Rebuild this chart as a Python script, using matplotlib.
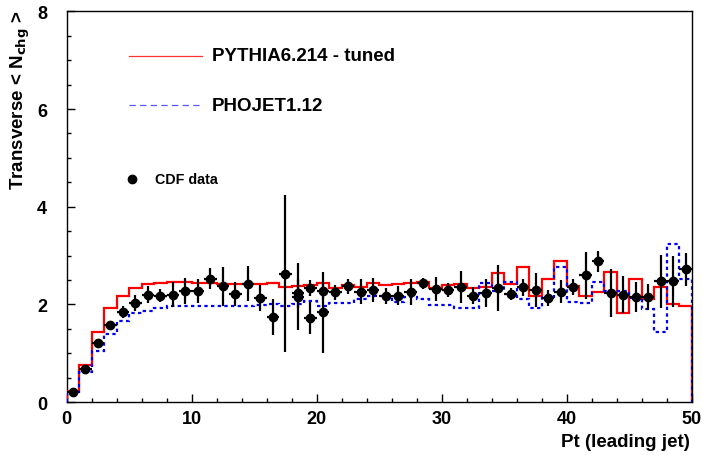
import numpy as np
import matplotlib
matplotlib.use("Agg")
import matplotlib.pyplot as plt

# bin edges 0..50, 1 GeV bins
edges = np.arange(0, 51, 1)

pythia = [0.23, 0.76, 1.44, 1.92, 2.18, 2.34, 2.41, 2.44, 2.46, 2.46,
          2.44, 2.43, 2.42, 2.41, 2.41, 2.41, 2.44, 2.35, 2.38, 2.40,
          2.43, 2.34, 2.40, 2.35, 2.43, 2.40, 2.42, 2.43, 2.46, 2.33,
          2.40, 2.42, 2.33, 2.36, 2.64, 2.41, 2.76, 2.18, 2.53, 2.88,
          2.37, 2.17, 2.25, 2.67, 1.82, 2.52, 2.11, 2.35, 2.01, 1.96]

phojet = [0.21, 0.62, 1.05, 1.40, 1.67, 1.82, 1.87, 1.93, 1.97, 1.97,
          1.97, 1.97, 1.97, 1.97, 1.97, 1.99, 2.01, 1.97, 2.01, 2.06,
          1.96, 2.02, 2.02, 2.12, 2.18, 2.18, 2.04, 2.15, 2.12, 1.99,
          1.99, 1.92, 1.92, 2.43, 2.28, 2.46, 2.12, 1.93, 2.15, 2.76,
          2.04, 2.03, 2.45, 2.28, 2.28, 2.13, 1.91, 1.43, 3.24, 2.52]

cdf_x = np.arange(0.5, 50, 1.0)
cdf_y = [0.21, 0.68, 1.22, 1.58, 1.84, 2.03, 2.20, 2.18, 2.20, 2.27,
         2.27, 2.53, 2.37, 2.21, 2.42, 2.13, 1.74, 2.63, 2.23, 2.33,
         2.27, 2.25, 2.37, 2.26, 2.30, 2.17, 2.18, 2.25, 2.43, 2.32,
         2.29, 2.36, 2.18, 2.23, 2.33, 2.21, 2.35, 2.29, 2.13, 2.26,
         2.36, 2.60, 2.88, 2.24, 2.20, 2.15, 2.15, 2.47, 2.47, 2.72]
cdf_err = [0.03, 0.04, 0.05, 0.06, 0.12, 0.17, 0.18, 0.14, 0.25, 0.27,
           0.25, 0.21, 0.40, 0.24, 0.36, 0.26, 0.37, 1.61, 0.30, 0.16,
           0.15, 0.15, 0.16, 0.26, 0.25, 0.17, 0.19, 0.26, 0.12, 0.25,
           0.14, 0.33, 0.17, 0.29, 0.47, 0.12, 0.17, 0.35, 0.17, 0.23,
           0.17, 0.48, 0.22, 0.49, 0.38, 0.31, 0.27, 0.54, 0.53, 0.34]

# second (overlapping) set of CDF points
cdf2_x = [18.5, 19.5, 20.5]
cdf2_y = [2.16, 1.72, 1.84]
cdf2_err = [0.68, 0.33, 0.83]

plt.rcParams['font.family'] = ['Liberation Sans', 'DejaVu Sans']
plt.rcParams['font.weight'] = 'bold'

fig = plt.figure(figsize=(7.02, 4.56), dpi=100)
ax = fig.add_axes([0.095, 0.116, 0.8905, 0.857])

ax.stairs(pythia, edges, color='red', lw=1.6, zorder=3)
ax.stairs(phojet, edges, color='blue', lw=1.6, ls=(0, (1.5, 1.5)), zorder=3)

for xs, ys, es in [(cdf_x, cdf_y, cdf_err), (cdf2_x, cdf2_y, cdf2_err)]:
    ax.errorbar(xs, ys, yerr=es, xerr=0.5, fmt='o', color='black',
                ms=6, elinewidth=1.6, capsize=0, zorder=4)

ax.set_xlim(0, 50)
ax.set_ylim(0, 8)
ax.set_xticks(np.arange(0, 51, 10))
ax.set_xticks(np.arange(0, 51, 2), minor=True)
ax.set_yticks(np.arange(0, 9, 2))
ax.set_yticks(np.arange(0, 8.1, 0.5), minor=True)
ax.tick_params(which='both', direction='in', width=1.0, top=False, right=False)
ax.tick_params(which='major', length=5.5, labelsize=13)
ax.tick_params(which='minor', length=3)
ax.tick_params(axis='y', pad=14)
ax.tick_params(axis='x', pad=6)
for lab in ax.get_xticklabels() + ax.get_yticklabels():
    lab.set_fontweight('bold')
for s in ax.spines.values():
    s.set_linewidth(1.0)

ax.set_xlabel('Pt (leading jet)', fontsize=13.5, fontweight='bold', loc='right')
ax.xaxis.set_label_coords(0.997, -0.078)
ax.set_ylabel(r'Transverse < N$_{\mathbf{chg}}$ >', fontsize=13.5,
              fontweight='bold', loc='top')
ax.yaxis.set_label_coords(-0.056, 1.006)

# legend, drawn by hand like the ROOT one
ax.plot([0.100, 0.216], [0.886, 0.886], transform=ax.transAxes,
        color='#ff3333', lw=0.9)
ax.text(0.232, 0.886, 'PYTHIA6.214 - tuned', transform=ax.transAxes,
        va='center', ha='left', fontsize=13.5, fontweight='bold')
ax.plot([0.100, 0.216], [0.760, 0.760], transform=ax.transAxes,
        color='#5555ff', lw=0.9, ls=(0, (5, 3.5)))
ax.text(0.232, 0.760, 'PHOJET1.12', transform=ax.transAxes,
        va='center', ha='left', fontsize=13.5, fontweight='bold')
ax.plot([0.104], [0.571], 'o', color='black', ms=6, transform=ax.transAxes)
ax.text(0.141, 0.571, 'CDF data', transform=ax.transAxes,
        va='center', ha='left', fontsize=10.3, fontweight='bold')

fig.savefig('out.png', dpi=100)
